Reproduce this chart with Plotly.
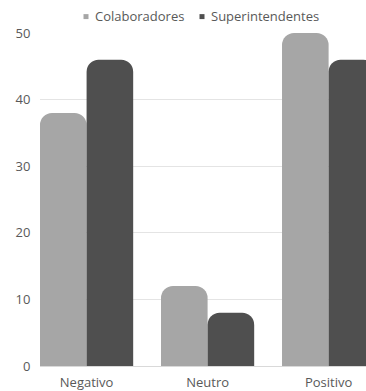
import plotly.graph_objects as go

categories = ["Negativo", "Neutro", "Positivo"]
colaboradores = [38, 12, 50]
superintendentes = [46, 8, 46]
y_ticks = [0, 10, 20, 30, 40, 50]
series_names = ["Colaboradores", "Superintendentes"]

c_light = "#a6a6a6"
c_dark = "#4f4f4f"
txt = "#595959"
font_family = "Open Sans, sans-serif"

W, H = 366, 391
ML, MR, MT, MB = 40, 0, 33, 23
PW, PH = W - ML - MR, H - MT - MB


def px_x(px):
    return (px - ML) / PW


def px_y(py):
    return 1 + (MT - py) / PH


fig = go.Figure()
fig.add_bar(x=categories, y=colaboradores, name=series_names[0],
            marker=dict(color=c_light, line=dict(width=0), cornerradius=12),
            showlegend=False)
fig.add_bar(x=categories, y=superintendentes, name=series_names[1],
            marker=dict(color=c_dark, line=dict(width=0), cornerradius=12),
            showlegend=False)

# custom legend: small squares + text
legend_items = [(series_names[0], c_light, 86, 93), (series_names[1], c_dark, 202, 209)]
for name, col, sq_cx, tx in legend_items:
    fig.add_shape(type="rect", xref="paper", yref="paper",
                  x0=px_x(sq_cx - 2.5), x1=px_x(sq_cx + 2.5),
                  y0=px_y(19), y1=px_y(14),
                  fillcolor=col, line=dict(width=0))
    fig.add_annotation(x=px_x(tx), y=px_y(16), xref="paper", yref="paper",
                       text=name, showarrow=False, xanchor="left", yanchor="middle",
                       font=dict(size=13, color=txt, family=font_family))

fig.update_layout(
    width=W, height=H,
    margin=dict(l=ML, r=MR, t=MT, b=MB),
    paper_bgcolor="white", plot_bgcolor="white",
    barmode="group", bargap=0.23, bargroupgap=0.0,
    font=dict(family=font_family, size=13, color=txt),
    showlegend=False,
    xaxis=dict(type="category", range=[-0.385, 2.309], showgrid=False,
               showline=True, linecolor="#d9d9d9", linewidth=1,
               ticks="outside", ticklen=4, tickcolor="rgba(0,0,0,0)",
               tickfont=dict(size=13, color=txt)),
    yaxis=dict(range=[0, 50], tickvals=y_ticks, showgrid=True, gridcolor="#e4e4e4",
               gridwidth=1, zeroline=False, showline=False,
               ticks="outside", ticklen=6, tickcolor="rgba(0,0,0,0)",
               tickfont=dict(size=13, color=txt)),
)

fig.write_html("out.html")
